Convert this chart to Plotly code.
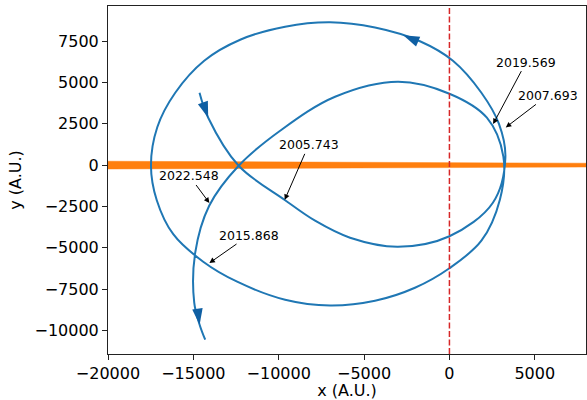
import math
import plotly.graph_objects as go

# ---------------- data (A.U.) ----------------
# first approach: from the start, through the crossing, along the lower inner arc
pass1_x = [-14639, -14130, -12346, -9625, -7870, -5822, -3013, 0, 2545]
pass1_y = [4377, 2866, -36, -2122, -3362, -4389, -4934, -4299, -2273]
# outer loop (upper, left and lower arcs)
loop_x = [3277, 2896, 1872, 205, -1726, -4359, -6992, -9625, -12258, -14364,
          -16061, -17114, -17483, -17143, -16178, -14423, -12434, -9625, -6992, -4359,
          -2019, 0, 1872, 2955]
loop_y = [447, 2503, 4377, 6312, 7491, 8319, 8634, 8368, 7582, 6312,
          4377, 2291, -36, -2122, -4178, -5840, -7050, -8138, -8483, -8198,
          -7412, -6233, -4571, -2092]
# second approach: upper inner arc, through the crossing, down to the end
pass2_x = [3160, 2194, 0, -3013, -6699, -9917, -12346, -14072, -14891, -14949,
           -14633, -14306]
pass2_y = [508, 2866, 4317, 5042, 4135, 2080, -36, -2455, -5296, -8319,
           -9649, -10556]

# direction arrows on the trajectory: tip and a point behind it
arrow_tip_x = [-14130, -2703, -14633]
arrow_tip_y = [2866, 7854, -9649]
arrow_back_x = [-14639, -556, -15008]
arrow_back_y = [4377, 6900, -6808]

# orange band along y = 0
orange_x = [-20000, 8000]
orange_half_width = [235, 115]

# epoch annotations: label, point, text offset (px)
ann_labels = ["2005.743", "2007.693", "2019.569", "2022.548", "2015.868"]
ann_x = [-9650, 3300, 2560, -14060, -14060]
ann_y = [-2100, 2280, 2480, -2290, -5920]
ann_dx = [24, 42, 33, -20, 40]
ann_dy = [-55, -32, -62, -27, -28]

x_ticks = [-20000, -15000, -10000, -5000, 0, 5000]
x_tick_text = ["\u221220000", "\u221215000", "\u221210000", "\u22125000", "0", "5000"]
y_ticks = [-10000, -7500, -5000, -2500, 0, 2500, 5000, 7500]
y_tick_text = ["\u221210000", "\u22127500", "\u22125000", "\u22122500", "0", "2500", "5000", "7500"]

x_range = [-20000, 8000]
y_range = [-11420, 9620]

# ---------------- figure ----------------
W, H = 587, 400
margin = dict(l=108, r=1, t=6, b=46)
px_x = (W - margin["l"] - margin["r"]) / (x_range[1] - x_range[0])
px_y = (H - margin["t"] - margin["b"]) / (y_range[1] - y_range[0])

FONT = "DejaVu Sans"
BLUE = "#1f77b4"
DARKBLUE = "#0f5fa3"
ORANGE = "#ff7f0e"

traj_x = pass1_x + loop_x + pass2_x
traj_y = pass1_y + loop_y + pass2_y

fig = go.Figure()

# orange band
fig.add_trace(go.Scatter(
    x=[orange_x[0], orange_x[1], orange_x[1], orange_x[0]],
    y=[orange_half_width[0], orange_half_width[1], -orange_half_width[1], -orange_half_width[0]],
    fill="toself", fillcolor=ORANGE, line=dict(width=0.8, color="rgba(255,127,14,0.6)"),
    mode="lines", hoverinfo="skip", showlegend=False))

# trajectory
fig.add_trace(go.Scatter(
    x=traj_x, y=traj_y, mode="lines",
    line=dict(color=BLUE, width=2, shape="spline", smoothing=1.0),
    showlegend=False))

# arrow heads
angles = [math.degrees(math.atan2((tx - bx) * px_x, (ty - by) * px_y))
          for tx, ty, bx, by in zip(arrow_tip_x, arrow_tip_y, arrow_back_x, arrow_back_y)]
fig.add_trace(go.Scatter(
    x=arrow_tip_x, y=arrow_tip_y, mode="markers",
    marker=dict(symbol="arrow", size=17, angle=angles, color=DARKBLUE,
                line=dict(width=0)),
    showlegend=False))

# red dashed line at x = 0
fig.add_shape(type="line", x0=0, x1=0, y0=0, y1=1, xref="x", yref="paper",
              line=dict(color="#d62728", width=1.5, dash="6px,2.5px"), layer="above")

for lab, x, y, dx, dy in zip(ann_labels, ann_x, ann_y, ann_dx, ann_dy):
    fig.add_annotation(x=x, y=y, ax=dx, ay=dy, text=lab, showarrow=True,
                       arrowhead=2, arrowsize=1.1, arrowwidth=1, arrowcolor="black",
                       standoff=0, font=dict(family=FONT, size=12.5, color="black"))

axis_common = dict(showgrid=False, zeroline=False, showline=True, linecolor="#222",
                   linewidth=1, mirror=True, ticks="outside", ticklen=5, tickwidth=1,
                   tickcolor="#222", tickfont=dict(family=FONT, size=16, color="black"))

fig.update_xaxes(range=x_range, tickvals=x_ticks, ticktext=x_tick_text,
                 title=dict(text="x (A.U.)", font=dict(family=FONT, size=16, color="black"),
                            standoff=4),
                 **axis_common)
fig.update_yaxes(range=y_range, tickvals=y_ticks, ticktext=y_tick_text,
                 title=dict(text="y (A.U.)", font=dict(family=FONT, size=16, color="black"),
                            standoff=8),
                 **axis_common)

fig.update_layout(width=W, height=H, margin=margin, plot_bgcolor="white",
                  paper_bgcolor="white", showlegend=False,
                  font=dict(family=FONT, color="black"))

fig.write_html("out.html", config={"displayModeBar": False},
               post_script="document.body.style.margin='0';document.body.style.overflow='hidden';")
